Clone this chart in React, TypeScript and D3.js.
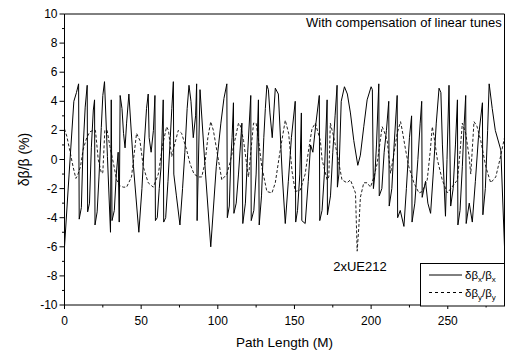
import React from "react";
import * as d3 from "d3";

// δβx/βx (solid) — path length (m) and value (%)
const betaXPos = [
  0, 3.0, 6.1, 7.8, 9.2, 9.6, 11.0, 12.0, 13.5, 14.8, 15.1, 16.3, 17.5, 18.8, 19.6, 19.9, 21.3, 22.5, 24.0, 25.0,
  26.1, 28.0, 30.0, 30.5, 31.0, 32.5, 33.8, 35.0, 35.7, 36.3, 37.5, 38.5, 39.5, 40.5, 42.0, 45.0, 48.5, 50.5, 52.0, 53.5,
  54.6, 55.2, 56.5, 58.0, 59.0, 59.3, 60.5, 61.8, 63.0, 64.4, 64.7, 66.0, 67.5, 69.0, 70.0, 71.0, 71.3, 73.0, 75.3, 77.0,
  78.5, 80.0, 81.2, 82.5, 84.0, 85.5, 86.2, 86.5, 88.4, 92.0, 95.4, 99.0, 102.0, 104.0, 105.9, 106.2, 107.5, 108.5, 109.3, 110.2,
  110.5, 112.0, 113.5, 115.7, 116.3, 118.0, 119.5, 121.5, 121.8, 123.5, 125.0, 126.5, 127.0, 128.5, 130.0, 131.0, 132.0, 133.0, 134.0, 135.5,
  137.5, 139.5, 142.0, 144.0, 146.0, 148.0, 150.5, 150.8, 152.0, 153.5, 154.5, 154.8, 157.0, 159.0, 160.5, 162.0, 164.0, 166.2, 166.5, 168.0,
  169.5, 171.3, 171.5, 173.5, 175.0, 176.5, 177.8, 178.0, 179.0, 180.5, 182.6, 184.5, 186.5, 188.7, 191.3, 193.0, 195.2, 197.4, 200.0, 200.8,
  201.5, 202.5, 203.5, 205.0, 205.3, 207.0, 208.5, 210.0, 211.5, 211.8, 213.5, 215.0, 217.0, 217.3, 219.0, 221.4, 223.0, 225.0, 226.4, 226.7,
  228.5, 230.5, 232.0, 233.0, 233.3, 235.5, 237.0, 238.8, 240.5, 242.5, 244.3, 245.5, 246.5, 248.5, 249.5, 250.8, 251.9, 253.5, 255.0, 256.3,
  256.6, 258.0, 259.5, 260.5, 261.7, 262.0, 264.0, 266.0, 268.0, 270.0, 272.6, 272.9, 274.5, 276.0, 277.0, 279.0, 281.0, 284.6, 287.0,
];
const betaXVal = [
  -6.0, -1.0, 4.0, 4.6, 5.2, -4.1, -3.3, 0.5, 3.6, 5.1, -3.6, -3.0, 0.8, 3.4, 4.1, -4.5, -3.6, -1.2, 2.2, 4.4,
  5.35, 0.2, -5.0, 4.1, -4.2, -3.5, -1.0, 0.5, -4.3, 4.4, 3.5, 1.8, 0.8, 2.5, 4.5, -0.5, -5.0, -2.0, 1.0, 3.5,
  4.5, 1.5, 0.5, 2.0, 4.4, -4.2, -4.0, -2.0, -0.5, 4.1, -4.3, -4.0, -1.5, 1.5, 3.5, 5.35, -1.0, -2.5, -4.5, -2.0,
  0.5, 3.5, 5.1, 4.0, 1.5, 3.0, 5.2, -4.2, 4.8, -1.0, -6.0, -0.5, 2.5, 4.2, 5.2, -4.0, -3.2, 0.0, 1.5, 3.9,
  -3.7, -3.0, -1.0, 2.5, -4.4, -3.0, 0.5, 4.4, -4.2, -3.5, -1.0, 4.1, -4.5, -2.5, 1.5, 3.5, 5.1, 4.8, 3.2, 1.5,
  4.9, 4.5, -1.0, -4.4, -1.5, 1.5, 4.0, -4.3, -3.5, -1.0, 3.2, -4.2, -4.4, -1.5, 1.0, 0.5, 2.5, 4.4, -4.2, -3.5,
  -1.0, 4.1, -3.8, -2.5, 0.5, 3.0, 5.1, -1.9, -1.0, 4.0, 5.0, 4.5, 3.2, 1.3, -0.4, 0.3, 2.25, 4.1, 5.0, 4.8,
  -2.0, -1.0, 1.0, 5.2, -2.5, -2.0, 0.5, 2.0, 4.0, -3.2, -2.0, 1.0, 4.4, -4.0, -3.5, -4.6, -2.0, 1.5, 3.0, -4.3,
  -3.0, 0.0, 2.5, 4.0, -2.6, -1.5, -3.0, -3.7, -1.0, 2.5, 4.9, 4.6, 1.0, -3.9, 0.0, 5.1, -3.2, -2.0, 1.0, 4.1,
  -4.5, -3.5, -0.5, 2.0, 4.4, -4.4, -3.0, -4.3, -1.5, 1.5, 3.9, -3.8, -2.0, 2.0, 5.2, 3.5, 2.0, 0.65, -6.0,
];

// δβy/βy (dashed)
const betaYPos = [
  0, 1.5, 3.5, 5.6, 7.4, 8.5, 10.4, 12.2, 14.5, 16.5, 18.7, 20.2, 22.0, 24.1, 25.0, 26.3, 27.8, 29.6, 31.8, 34.0,
  36.0, 38.3, 40.5, 43.7, 47.0, 49.2, 51.4, 54.6, 57.9, 61.2, 64.0, 66.6, 67.8, 69.9, 71.5, 74.2, 76.4, 79.7, 81.9, 84.5,
  87.3, 89.5, 91.7, 93.5, 95.4, 97.1, 99.3, 102.6, 105.9, 108.0, 110.5, 113.5, 114.8, 116.8, 118.9, 120.0, 123.3, 125.0, 126.6, 128.7,
  132.0, 135.3, 137.5, 140.5, 144.0, 146.2, 147.3, 148.4, 150.5, 153.8, 157.0, 159.0, 161.4, 163.6, 166.9, 168.0, 171.3, 172.4, 173.4, 175.5,
  177.8, 181.0, 184.3, 186.5, 189.8, 190.9, 192.0, 193.0, 195.2, 197.4, 199.6, 201.8, 203.9, 207.2, 208.3, 210.5, 212.7, 215.0, 217.0, 219.2,
  220.3, 222.5, 224.6, 227.9, 231.2, 233.4, 236.6, 238.5, 239.9, 241.0, 243.2, 246.4, 249.7, 252.0, 256.3, 258.0, 259.5, 261.7, 263.9, 265.0,
  267.1, 269.0, 271.5, 274.8, 278.0, 281.3, 284.0, 287.0,
];
const betaYVal = [
  2.1, 1.6, 0.6, -0.5, -1.3, -1.1, -0.5, 0.7, 1.5, 1.9, 2.0, 2.0, 0.0, -0.95, -0.9, 2.0, 2.0, 0.9, -0.2, -1.4,
  -1.8, -1.9, -1.9, -1.2, 1.8, 1.3, -0.5, -1.6, -1.9, -1.0, 1.0, 2.25, 2.0, 0.2, 0.9, 2.0, 1.8, 0.65, -0.3, -1.0,
  -1.2, -1.2, -0.2, 1.5, 2.6, 2.0, 0.65, -1.4, -1.0, -0.2, 1.0, 2.5, 2.3, 1.3, -0.4, -1.2, 2.5, 2.5, 1.3, -0.5,
  -2.2, -2.3, -1.6, 0.5, 2.7, 1.8, 0.5, -0.8, -2.2, -2.1, -1.0, 0.5, 2.1, 2.5, 1.3, 0.0, -1.4, -1.2, 2.5, 1.6,
  0.4, -1.4, -1.6, -1.4, -2.3, -6.3, -4.6, -2.6, -1.6, -1.6, -1.9, -1.2, -0.3, 2.25, 2.0, 1.3, -0.95, 0.5, 1.8, 2.6,
  2.0, 0.65, -0.5, -1.6, -2.3, -2.2, -1.4, 0.5, 2.25, 1.6, 0.0, -1.4, -2.3, -2.0, -1.4, 0.5, 2.5, 1.8, 0.2, -1.0,
  2.6, 2.3, 1.3, -0.5, -1.6, -1.2, 0.0, 1.5,
];

const xTicks = [0, 50, 100, 150, 200, 250];
const xMinor = [25, 75, 125, 175, 225, 275];
const yTicks = [-10, -8, -6, -4, -2, 0, 2, 4, 6, 8, 10];
const yMinor = [-9, -7, -5, -3, -1, 1, 3, 5, 7, 9];

const W = 508;
const H = 353;
const L = 64.5;
const R = 504.5;
const T = 14;
const B = 305;
const FONT = "'Liberation Sans', Arial, sans-serif";

export default function App() {
  const x = d3.scaleLinear().domain([0, 287]).range([L, R]);
  const y = d3.scaleLinear().domain([-10, 10]).range([B, T]);
  const line = d3
    .line<[number, number]>()
    .x((d) => x(d[0]))
    .y((d) => y(d[1]));
  const solid = line(betaXPos.map((s, i) => [s, betaXVal[i]] as [number, number])) || "";
  const dashed = line(betaYPos.map((s, i) => [s, betaYVal[i]] as [number, number])) || "";

  return (
    <svg
      width={W}
      height={H}
      style={{ position: "absolute", left: 0, top: 0, background: "#fff" }}
      fontFamily={FONT}
    >
      <defs>
        <clipPath id="plot">
          <rect x={L} y={T} width={R - L} height={B - T} />
        </clipPath>
      </defs>
      <rect x={0} y={0} width={W} height={H} fill="#fff" />
      <g clipPath="url(#plot)">
        <path d={dashed} fill="none" stroke="#222" strokeWidth={1} strokeDasharray="3,2" />
        <path d={solid} fill="none" stroke="#000" strokeWidth={1} />
      </g>
      {/* frame */}
      <line x1={L} x2={R} y1={T} y2={T} stroke="#000" strokeWidth={1} />
      <line x1={R} x2={R} y1={T} y2={B} stroke="#000" strokeWidth={1} />
      <line x1={L} x2={L} y1={T} y2={B} stroke="#000" strokeWidth={1} />
      <line x1={L} x2={R} y1={B} y2={B} stroke="#000" strokeWidth={1} />
      {/* y ticks */}
      {yTicks.map((t) => (
        <g key={"y" + t}>
          <line x1={L - 5} x2={L} y1={y(t)} y2={y(t)} stroke="#000" />
          <text x={L - 7} y={y(t) + 4} textAnchor="end" fontSize={12} fill="#000">
            {t}
          </text>
        </g>
      ))}
      {yMinor.map((t) => (
        <line key={"ym" + t} x1={L - 2.5} x2={L} y1={y(t)} y2={y(t)} stroke="#000" />
      ))}
      {/* x ticks */}
      {xTicks.map((t) => (
        <g key={"x" + t}>
          <line x1={x(t)} x2={x(t)} y1={B} y2={B + 4} stroke="#000" />
          <text x={x(t)} y={B + 20} textAnchor="middle" fontSize={12} fill="#000">
            {t}
          </text>
        </g>
      ))}
      {xMinor.map((t) => (
        <line key={"xm" + t} x1={x(t)} x2={x(t)} y1={B} y2={B + 2.5} stroke="#000" />
      ))}
      {/* axis titles */}
      <text x={(L + R) / 2} y={347} textAnchor="middle" fontSize={13.5} fill="#000">
        Path Length (M)
      </text>
      <text
        transform={`translate(29,${(T + B) / 2}) rotate(-90)`}
        textAnchor="middle"
        fontSize={14}
        fill="#000"
      >
        δβ/β (%)
      </text>
      {/* title */}
      <text x={306} y={27} fontSize={13} fill="#000">
        With compensation of linear tunes
      </text>
      {/* annotation */}
      <text x={360} y={271} textAnchor="middle" fontSize={13} fill="#000">
        2xUE212
      </text>
      {/* legend */}
      <rect x={420.5} y={263.5} width={R - 420.5} height={B + 1 - 263.5} fill="#fff" stroke="#000" />
      <line x1={429} x2={462} y1={275} y2={275} stroke="#000" />
      <line x1={429} x2={462} y1={292.5} y2={292.5} stroke="#000" strokeDasharray="3,3" />
      <text x={465} y={279} fontSize={11.5} fill="#000">
        δβ<tspan dy={3} fontSize={8}>x</tspan>
        <tspan dy={-3}>/β</tspan>
        <tspan dy={3} fontSize={8}>x</tspan>
      </text>
      <text x={465} y={296.5} fontSize={11.5} fill="#000">
        δβ<tspan dy={3} fontSize={8}>y</tspan>
        <tspan dy={-3}>/β</tspan>
        <tspan dy={3} fontSize={8}>y</tspan>
      </text>
    </svg>
  );
}
